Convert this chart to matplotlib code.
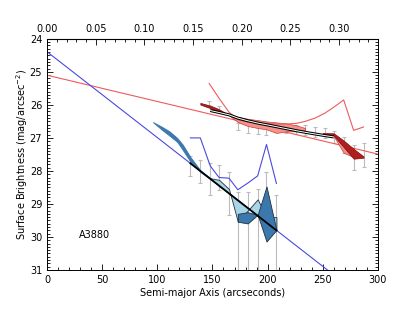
import matplotlib
matplotlib.use("Agg")
import matplotlib.pyplot as plt
from matplotlib.ticker import MultipleLocator, FormatStrFormatter

# fit lines (end points)
red_fit_x = [0, 300]
red_fit_y = [25.1, 27.49]
blue_fit_x = [0, 300]
blue_fit_y = [24.39, 32.19]

# thin profile lines
red_prof_r = [147, 156, 165, 173, 182, 191, 199, 208, 217, 226, 234, 243, 252, 260, 269, 278, 287]
red_prof_y = [25.35, 25.8, 26.22, 26.45, 26.52, 26.55, 26.57, 26.58, 26.58, 26.56, 26.5, 26.4, 26.25, 26.07, 25.85, 26.77, 26.67]
blue_prof_r = [130, 139, 148, 156, 165, 173, 182, 191, 199, 208]
blue_prof_y = [27.0, 27.0, 27.85, 28.2, 28.22, 28.57, 28.37, 28.15, 27.2, 28.38]

# black model lines
red_model_r = [148, 156, 165, 173, 182, 191, 199, 208, 217, 226, 234, 243, 252, 260]
red_model_y = [26.17, 26.23, 26.3, 26.4, 26.48, 26.55, 26.6, 26.66, 26.72, 26.78, 26.83, 26.88, 26.93, 26.97]
blue_model_r = [130, 208]
blue_model_y = [27.77, 29.8]

# filled regions
red_wedge_r = [139, 148, 156, 165]
red_wedge_top = [25.94, 26.02, 26.13, 26.31]
red_wedge_bot = [25.99, 26.1, 26.23, 26.31]
red_light_r = [165, 173, 182, 191, 199, 208, 217, 226, 234]
red_light_top = [26.31, 26.36, 26.42, 26.46, 26.5, 26.53, 26.56, 26.62, 26.7]
red_light_bot = [26.31, 26.52, 26.64, 26.7, 26.74, 26.85, 26.8, 26.8, 26.76]
red_end_light_r = [260, 269, 278]
red_end_light_top = [26.92, 27.22, 27.5]
red_end_light_bot = [26.95, 27.45, 27.58]
red_end_dark_r = [250, 260, 269, 278, 287]
red_end_dark_top = [26.85, 26.86, 27.08, 27.33, 27.56]
red_end_dark_bot = [26.9, 26.93, 27.28, 27.63, 27.6]

blue_leaf_r = [96, 104, 111, 118, 123, 130, 139, 148]
blue_leaf_top = [26.52, 26.66, 26.8, 27.0, 27.2, 27.58, 27.98, 28.22]
blue_leaf_bot = [26.52, 26.75, 26.93, 27.12, 27.36, 27.72, 28.03, 28.24]
blue_light_r = [148, 156, 165, 173, 182, 191, 199, 208]
blue_light_a = [28.22, 28.27, 28.55, 29.54, 29.2, 28.86, 29.4, 29.4]
blue_light_b = [28.24, 28.45, 28.68, 28.89, 29.12, 29.36, 29.56, 29.8]
blue_tri_r = [173, 182, 191]
blue_tri_top = [29.3, 29.25, 29.33]
blue_tri_bot = [29.54, 29.59, 29.33]
blue_quad_r = [191, 199, 208]
blue_quad_top = [29.33, 28.47, 29.79]
blue_quad_bot = [29.33, 30.14, 29.79]

# error bars (top, bottom)
red_err_r = [147, 156, 173, 182, 191, 199, 208, 217, 226, 234, 243, 252, 260, 269, 278, 287]
red_err_lo = [25.88, 26.03, 26.55, 26.6, 26.62, 26.62, 26.55, 26.58, 26.6, 26.6, 26.66, 26.7, 26.8, 26.96, 27.2, 27.15]
red_err_hi = [26.02, 26.18, 26.76, 26.86, 26.88, 26.9, 26.82, 26.86, 26.88, 26.9, 26.96, 27.0, 27.15, 27.45, 27.97, 27.87]
blue_err_r = [130, 139, 148, 156, 165, 173, 182, 191, 199, 208]
blue_err_lo = [27.54, 27.67, 27.77, 27.82, 28.02, 28.65, 28.65, 28.55, 28.02, 28.73]
blue_err_hi = [28.15, 28.37, 28.73, 28.58, 29.33, 31.5, 31.5, 31.5, 29.18, 31.5]

plt.rcParams['font.family'] = ['DejaVu Sans']
fig = plt.figure(figsize=(4.02, 3.11), dpi=100)
ax = fig.add_axes([0.117, 0.132, 0.823, 0.743])

red_line = '#f05a5a'
blue_line = '#4a4ae0'
dark_red = '#b01e1e'
light_red = '#f4928a'
dark_blue = '#3b78ad'
light_blue = '#a8d6e6'
err_col = '#bbbbbb'

def errbars(r, lo, hi):
    mid = [(a + b) / 2 for a, b in zip(lo, hi)]
    ylo = [m - a for m, a in zip(mid, lo)]
    yhi = [b - m for m, b in zip(mid, hi)]
    ax.errorbar(r, mid, yerr=[ylo, yhi], fmt='none', ecolor=err_col,
                elinewidth=0.8, capsize=1.6, capthick=0.8, zorder=1)

errbars(red_err_r, red_err_lo, red_err_hi)
errbars(blue_err_r, blue_err_lo, blue_err_hi)

ax.plot(red_fit_x, red_fit_y, color=red_line, lw=0.8, zorder=2)
ax.plot(blue_fit_x, blue_fit_y, color=blue_line, lw=0.8, zorder=2)

# red fills
ax.fill_between(red_wedge_r, red_wedge_top, red_wedge_bot, facecolor=dark_red, edgecolor='#7a1010', lw=0.5, zorder=3)
ax.fill_between(red_light_r, red_light_top, red_light_bot, facecolor=light_red, edgecolor='#c83c3c', lw=0.5, zorder=3)
ax.fill_between(red_end_light_r, red_end_light_top, red_end_light_bot, facecolor=light_red, edgecolor='#c83c3c', lw=0.5, zorder=3)
ax.fill_between(red_end_dark_r, red_end_dark_top, red_end_dark_bot, facecolor=dark_red, edgecolor='#7a1010', lw=0.5, zorder=3)

# blue fills
ax.fill_between(blue_leaf_r, blue_leaf_top, blue_leaf_bot, facecolor=dark_blue, edgecolor=dark_blue, lw=0.6, zorder=3)
ax.fill_between(blue_light_r, blue_light_a, blue_light_b, facecolor=light_blue, edgecolor='#203040', lw=0.6, zorder=3)
ax.fill_between(blue_tri_r, blue_tri_top, blue_tri_bot, facecolor=dark_blue, edgecolor='#203040', lw=0.6, zorder=3)
ax.fill_between(blue_quad_r, blue_quad_top, blue_quad_bot, facecolor=dark_blue, edgecolor='#203040', lw=0.6, zorder=3)

# thin profiles
ax.plot(red_prof_r, red_prof_y, color=red_line, lw=0.8, zorder=4)
ax.plot(blue_prof_r, blue_prof_y, color=blue_line, lw=0.8, zorder=4)

# black model lines
ax.plot(red_model_r, red_model_y, color='black', lw=2.2, zorder=5, solid_capstyle='butt')
ax.plot(red_model_r, red_model_y, color='white', lw=0.7, zorder=6, solid_capstyle='butt')
ax.plot(blue_model_r, blue_model_y, color='black', lw=1.3, zorder=5)

ax.text(29, 29.95, 'A3880', fontsize=7, va='center', ha='left')

ax.set_xlim(0, 300)
ax.set_ylim(31, 24)
ax.xaxis.set_major_locator(MultipleLocator(50))
ax.xaxis.set_minor_locator(MultipleLocator(10))
ax.yaxis.set_major_locator(MultipleLocator(1))
ax.yaxis.set_minor_locator(MultipleLocator(0.1))
ax.tick_params(which='both', direction='in', right=True, labelsize=7, width=0.6)
ax.tick_params(which='major', length=4)
ax.tick_params(which='minor', length=2)
ax.set_xlabel('Semi-major Axis (arcseconds)', fontsize=7, labelpad=2)
ax.set_ylabel('Surface Brightness (mag/arcsec$^{-2}$)', fontsize=7)
ax.yaxis.set_label_coords(-0.05, 0.5)
for s in ax.spines.values():
    s.set_linewidth(0.7)

k = 0.001133
sec = ax.secondary_xaxis('top', functions=(lambda x: x * k, lambda x: x / k))
sec.xaxis.set_major_locator(MultipleLocator(0.05))
sec.xaxis.set_minor_locator(MultipleLocator(0.01))
sec.xaxis.set_major_formatter(FormatStrFormatter('%.2f'))
sec.tick_params(which='both', direction='in', labelsize=7, width=0.6)
sec.tick_params(which='major', length=4)
sec.tick_params(which='minor', length=2)

fig.savefig('out.png', dpi=100)
